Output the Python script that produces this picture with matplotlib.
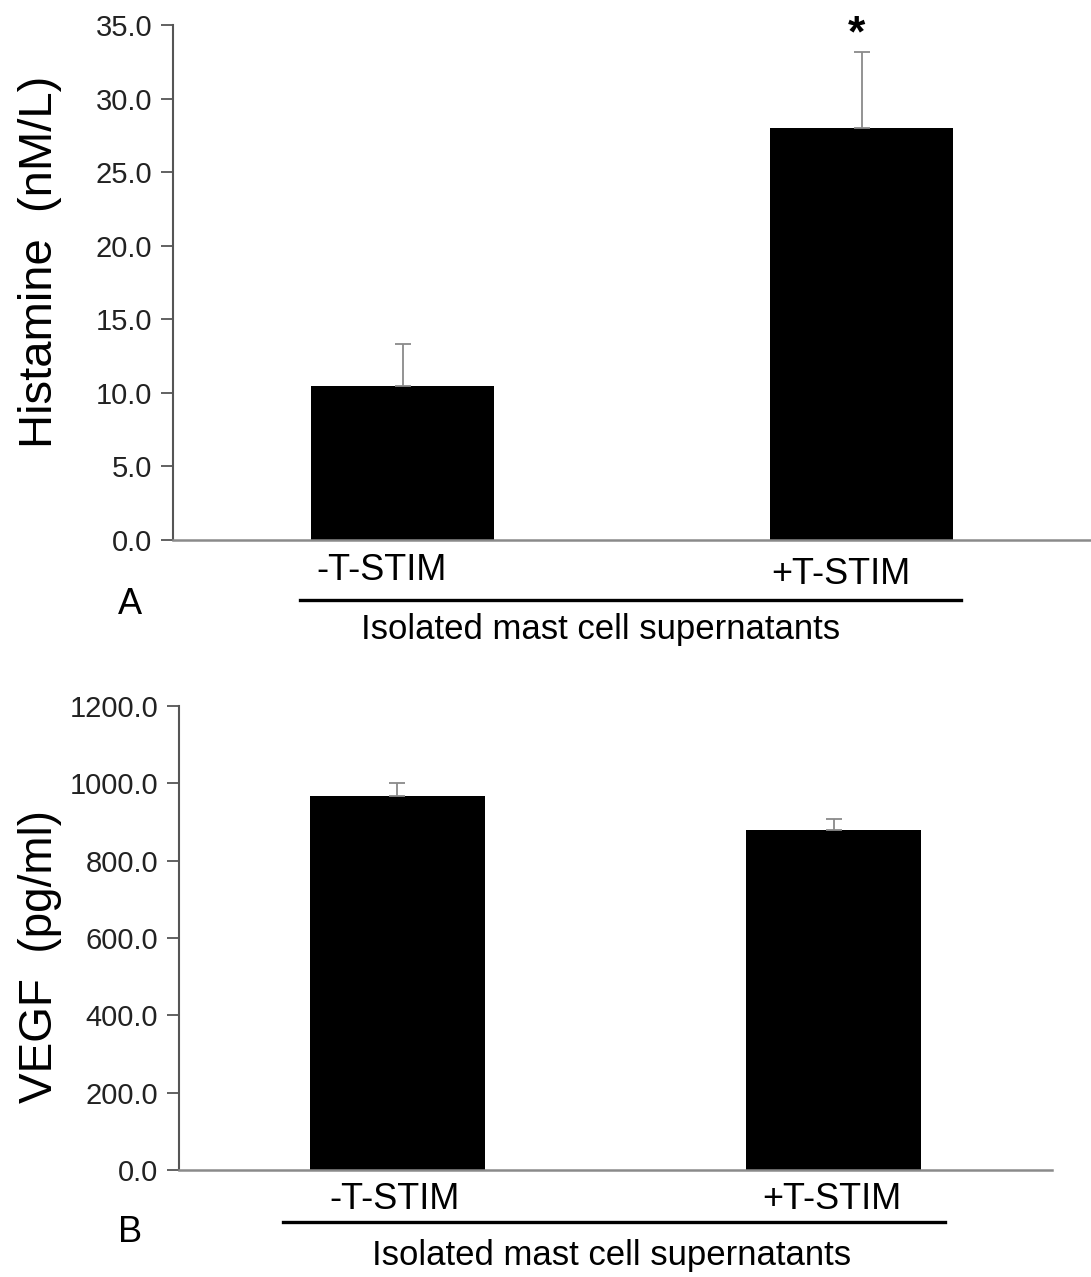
import matplotlib.pyplot as plt
import numpy as np

plt.rcParams['font.family'] = ['Liberation Sans', 'DejaVu Sans']

# Data
categories = ['-T-STIM', '+T-STIM']
histamine = [10.5, 28.0]
histamine_err = [2.8, 5.2]
vegf = [968.0, 880.0]
vegf_err = [33.0, 28.0]

x = np.arange(len(categories))
width = 0.4

fig = plt.figure(figsize=(10.91, 12.77), dpi=100)
ax1 = fig.add_axes([0.1586, 0.5771, 0.8414, 0.4033])
ax2 = fig.add_axes([0.1641, 0.0838, 0.8000, 0.3634])


def style_panel(ax, vals, errs, ylim, yticks, ylabel, tick_fs, label_fs):
    ax.bar(x, vals, width, color='black', zorder=2)
    ax.errorbar(x, vals, yerr=[np.zeros(len(errs)), errs], fmt='none',
                ecolor='#8a8a8a', elinewidth=1.3, capsize=6, capthick=1.3, zorder=3)
    ax.set_xlim(-0.5, 1.5)
    ax.set_ylim(*ylim)
    ax.set_yticks(yticks)
    ax.set_yticklabels(['%.1f' % t for t in yticks], fontsize=tick_fs, color='#222222')
    ax.set_xticks([])
    for s in ['top', 'right']:
        ax.spines[s].set_visible(False)
    ax.spines['left'].set_color('#555555')
    ax.spines['left'].set_linewidth(1.5)
    ax.spines['bottom'].set_color('#8a8a8a')
    ax.spines['bottom'].set_linewidth(1.8)
    ax.tick_params(axis='y', direction='out', length=9, width=1.3, color='#555555', pad=6)
    ax.set_ylabel(ylabel, fontsize=label_fs)


# Panel A
style_panel(ax1, histamine, histamine_err, (0, 35), np.arange(0, 36, 5),
            'Histamine  (nM/L)', 21, 34)
ax1.yaxis.set_label_coords(-0.121, 0.54)
for i, lab in enumerate(categories):
    ax1.text(x[i] - 0.045, -0.025 - 0.008 * i, lab, transform=ax1.get_xaxis_transform(),
             ha='center', va='top', fontsize=26)
ax1.plot([0.138, 0.858], [-0.1165, -0.1165], color='black', lw=2.4,
         transform=ax1.transAxes, clip_on=False)
ax1.text(x[1] - 0.01, 34.3, '*', ha='center', va='center', fontsize=32,
         fontweight='bold', clip_on=False)
fig.text(130 / 1091, 1 - 605 / 1277, 'A', ha='center', va='center', fontsize=26)
fig.text(601 / 1091, 1 - 630 / 1277, 'Isolated mast cell supernatants',
         ha='center', va='center', fontsize=25)

# Panel B
style_panel(ax2, vegf, vegf_err, (0, 1200), np.arange(0, 1201, 200),
            'VEGF  (pg/ml)', 21, 33)
ax2.yaxis.set_label_coords(-0.134, 0.459)
for i, lab in enumerate(categories):
    ax2.text(x[i] - 0.005, -0.025, lab, transform=ax2.get_xaxis_transform(),
             ha='center', va='top', fontsize=26)
ax2.plot([0.119, 0.878], [-0.1124, -0.1124], color='black', lw=2.4,
         transform=ax2.transAxes, clip_on=False)
fig.text(130 / 1091, 1 - 1232 / 1277, 'B', ha='center', va='center', fontsize=26)
fig.text(612 / 1091, 1 - 1255 / 1277, 'Isolated mast cell supernatants',
         ha='center', va='center', fontsize=25)

plt.savefig('out.png', dpi=100)
